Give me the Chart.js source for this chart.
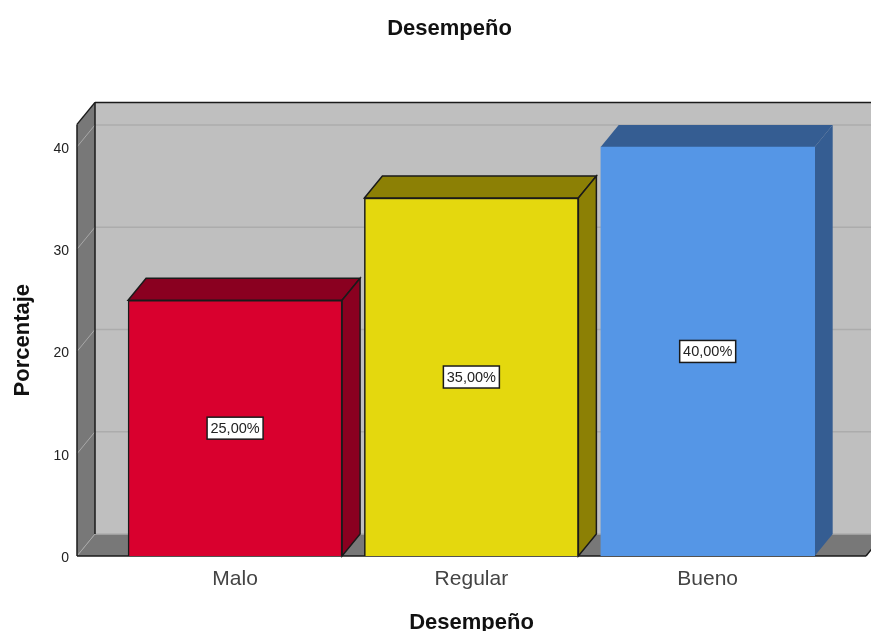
<!DOCTYPE html>
<html>
<head>
<meta charset="utf-8">
<title>Desempeño</title>
<script src="https://cdn.jsdelivr.net/npm/chart.js@4/dist/chart.umd.js"></script>
<style>
  html, body { margin: 0; padding: 0; background: #fff; }
  canvas { display: block; }
</style>
</head>
<body>
<canvas id="my-chart" width="871" height="631"></canvas>
<script>
// data
const categories = ['Malo', 'Regular', 'Bueno']
const percentages = [25, 35, 40]
const percentLabels = ['25,00%', '35,00%', '40,00%']
const yTicks = [0, 10, 20, 30, 40]

const frontColors = ['#d9002e', '#e4d80e', '#5596e6']
const darkColors = ['#8a0020', '#8c8005', '#355d92']
const edgeColors = ['#1a1a1a', '#1a1a1a', '#5596e6']

// how far the back of the 3d box sits from the front
const depthX = 18
const depthY = -22
const fontName = '"Liberation Sans", Arial, sans-serif'

function poly(ctx, points, fill, stroke, width) {
  ctx.beginPath()
  points.forEach((p, i) => i ? ctx.lineTo(p[0], p[1]) : ctx.moveTo(p[0], p[1]))
  ctx.closePath()
  if (fill) {
    ctx.fillStyle = fill
    ctx.fill()
  }
  if (stroke) {
    ctx.strokeStyle = stroke
    ctx.lineWidth = width || 1
    ctx.stroke()
  }
}

function line(ctx, x1, y1, x2, y2, color, width) {
  ctx.beginPath()
  ctx.moveTo(x1, y1)
  ctx.lineTo(x2, y2)
  ctx.strokeStyle = color
  ctx.lineWidth = width
  ctx.stroke()
}

// walls, floor and the sides of the bars
const box3d = {
  id: 'box3d',
  beforeDatasetsDraw(chart) {
    const { ctx, chartArea: { left, right, top, bottom }, scales: { y } } = chart
    ctx.save()

    // back wall
    poly(ctx, [[left + depthX, top + depthY], [right + depthX, top + depthY], [right + depthX, bottom + depthY], [left + depthX, bottom + depthY]], '#bfbfbf')
    // side wall and floor
    poly(ctx, [[left, top], [left + depthX, top + depthY], [left + depthX, bottom + depthY], [left, bottom]], '#787878')
    poly(ctx, [[left, bottom], [left + depthX, bottom + depthY], [right + depthX, bottom + depthY], [right, bottom]], '#787878')

    // grid on the wall and the side wall
    yTicks.forEach((t) => {
      const py = y.getPixelForValue(t)
      line(ctx, left + depthX, py + depthY, right + depthX, py + depthY, '#acacac', 1.5)
      line(ctx, left, py, left + depthX, py + depthY, '#a8a8a8', 1)
    })

    // box outline
    line(ctx, left + depthX, top + depthY, right + depthX, top + depthY, '#1a1a1a', 1.5)
    line(ctx, left + depthX, top + depthY, left + depthX, bottom + depthY, '#1a1a1a', 1.5)
    line(ctx, left, top, left + depthX, top + depthY, '#1a1a1a', 1.5)
    line(ctx, left, top, left, bottom, '#1a1a1a', 1.5)
    line(ctx, left, bottom, right, bottom, '#1a1a1a', 1.5)
    line(ctx, right, bottom, right + depthX, bottom + depthY, '#1a1a1a', 1.5)

    // top and right side of every bar, the front comes from the dataset
    chart.getDatasetMeta(0).data.forEach((bar, i) => {
      const x1 = bar.x - bar.width / 2
      const x2 = bar.x + bar.width / 2
      const stroke = i < 2 ? '#1a1a1a' : null
      poly(ctx, [[x1, bar.y], [x1 + depthX, bar.y + depthY], [x2 + depthX, bar.y + depthY], [x2, bar.y]], darkColors[i], stroke, 1.5)
      poly(ctx, [[x2, bar.y], [x2 + depthX, bar.y + depthY], [x2 + depthX, bar.base + depthY], [x2, bar.base]], darkColors[i], stroke, 1.5)
    })
    ctx.restore()
  },
  afterDatasetsDraw(chart) {
    const { ctx } = chart
    ctx.save()
    ctx.font = '14.5px ' + fontName
    ctx.textAlign = 'center'
    ctx.textBaseline = 'middle'
    // white boxes in the middle of the bars
    chart.getDatasetMeta(0).data.forEach((bar, i) => {
      const cy = (bar.y + bar.base) / 2
      ctx.fillStyle = '#fff'
      ctx.fillRect(bar.x - 28, cy - 11, 56, 22)
      ctx.strokeStyle = '#1a1a1a'
      ctx.lineWidth = 1.5
      ctx.strokeRect(bar.x - 28, cy - 11, 56, 22)
      ctx.fillStyle = '#222'
      ctx.fillText(percentLabels[i], bar.x, cy + 1)
    })
    ctx.restore()
  }
}

const data = {
  datasets: [{
    label: 'Porcentaje',
    data: percentages.map((v, i) => ({ x: i, y: v })),
    backgroundColor: frontColors,
    borderColor: edgeColors,
    borderWidth: 1.5,
    barThickness: 214,
  }]
}

const options = {
  responsive: false,
  animation: false,
  // left padding moves the title centre over to where the reference has it
  layout: { padding: { top: 0, right: 5, left: 33, bottom: 0 } },
  plugins: {
    legend: { display: false },
    tooltip: { enabled: false },
    title: {
      display: true,
      text: 'Desempeño',
      color: '#111',
      font: { family: fontName, size: 22, weight: 'bold' },
      padding: { top: 16, bottom: 82 },
    },
  },
  scales: {
    x: {
      type: 'linear',
      offset: false,
      min: -0.669,
      max: 2.67,
      afterFit: (scale) => { scale.height = 75 },
      grid: { display: false },
      border: { display: false },
      ticks: {
        stepSize: 1,
        includeBounds: false,
        padding: 3,
        color: '#444',
        font: { family: fontName, size: 21 },
        callback: (value) => categories[value],
      },
      title: {
        display: true,
        text: 'Desempeño',
        color: '#111',
        font: { family: fontName, size: 22, weight: 'bold' },
        padding: { top: 12, bottom: -5 },
      },
    },
    y: {
      min: 0,
      max: 42.2,
      afterFit: (scale) => { scale.width = 44 },
      grid: { display: false },
      border: { display: false },
      ticks: {
        stepSize: 10,
        includeBounds: false,
        padding: 0,
        labelOffset: 2,
        color: '#222',
        font: { family: fontName, size: 14 },
      },
      title: {
        display: true,
        text: 'Porcentaje',
        color: '#111',
        font: { family: fontName, size: 22, weight: 'bold' },
        padding: { top: -23, bottom: 8 },
      },
    },
  },
}

const ctx = document.getElementById('my-chart').getContext('2d')
const myChart = new Chart(ctx, { type: 'bar', data: data, options: options, plugins: [box3d] })
</script>
</body>
</html>
